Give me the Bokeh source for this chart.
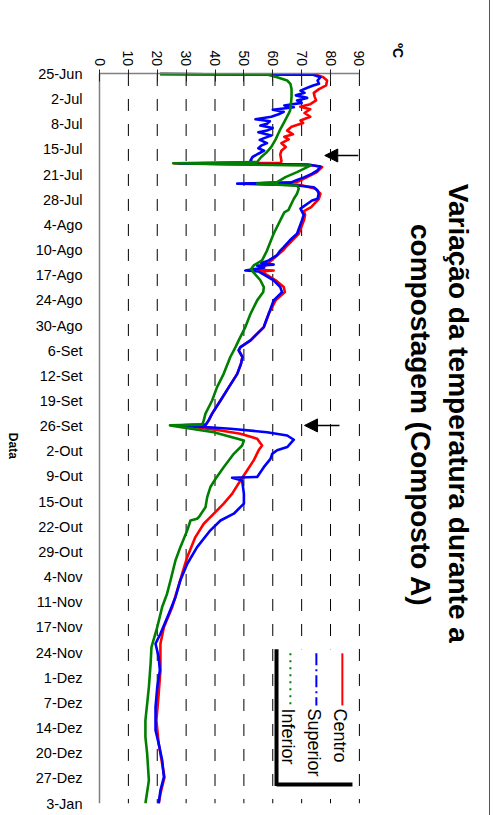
import math
from bokeh.plotting import figure
from bokeh.layouts import row
from bokeh.models import Range1d, FixedTicker, Label, Arrow, NormalHead
from bokeh.core.properties import value
from bokeh.embed import file_html
from bokeh.resources import INLINE

# ---------------- data ----------------
date_labels = ["25-Jun", "2-Jul", "8-Jul", "15-Jul", "21-Jul", "28-Jul", "4-Ago",
               "10-Ago", "17-Ago", "24-Ago", "30-Ago", "6-Set", "12-Set", "19-Set",
               "26-Set", "2-Out", "9-Out", "15-Out", "22-Out", "29-Out", "4-Nov",
               "11-Nov", "17-Nov", "24-Nov", "1-Dez", "7-Dez", "14-Dez", "20-Dez",
               "27-Dez", "3-Jan"]
temp_ticks = [0, 10, 20, 30, 40, 50, 60, 70, 80, 90]

# (position along the date category axis, temperature ºC)
centro = [
    (0, 21), (0.03, 75), (0.13, 77.5), (0.26, 78.8), (0.45, 78.5), (0.6, 76), (0.75, 74.2),
    (0.9, 74.5), (1.05, 75), (1.2, 73), (1.3, 69.5), (1.4, 73), (1.55, 71), (1.7, 73),
    (1.85, 69.6), (1.95, 70.5), (2.1, 66.5), (2.25, 65), (2.4, 67), (2.5, 64), (2.6, 65.5),
    (2.75, 63), (2.9, 64.5), (3.05, 63), (3.2, 62.6), (3.45, 63), (3.53, 62.8), (3.56, 26),
    (3.62, 73), (3.7, 77.1), (3.9, 75.3), (4.1, 71.9), (4.3, 68.4), (4.36, 50), (4.42, 70),
    (4.56, 74.8), (4.76, 76.5), (4.96, 76), (5.29, 73.3), (5.45, 70.8), (5.6, 71.2),
    (5.82, 70.8), (6.35, 69), (6.88, 64.5), (7.02, 63.5), (7.41, 59.5), (7.61, 57.5),
    (7.78, 55), (7.81, 60.3), (7.85, 56), (8.2, 61), (8.47, 63.8), (8.67, 64.2), (9.0, 61),
    (9.53, 58.6), (10.06, 56.9), (10.59, 52.3), (10.86, 48.8), (10.99, 48.2), (11.25, 49.5),
    (11.52, 49), (11.92, 47.7), (12.45, 44.8), (12.98, 41.9), (13.5, 39), (13.77, 37.8),
    (13.94, 36.8), (13.97, 28.6), (14.17, 41.9), (14.3, 48.8), (14.5, 54.6), (14.77, 56.3),
    (14.96, 55.1), (15.36, 53.4), (15.76, 51.1), (16.16, 48.8), (16.69, 45.9), (17.08, 43),
    (17.48, 39.6), (17.88, 36.1), (18.41, 33.2), (19.2, 30.4), (19.87, 28.6), (20.53, 26.9),
    (21.19, 25.2), (21.99, 22.3), (22.65, 21.1), (23.71, 21.1), (24.63, 20.5), (25.7, 19.7),
    (26.62, 20.5), (27.42, 21.7), (27.95, 22.5), (28.61, 21.1), (29.0, 20.5),
]
superior = [
    (0, 21), (0.03, 74), (0.13, 76.5), (0.26, 75.5), (0.39, 76), (0.46, 74), (0.55, 72),
    (0.66, 69.6), (0.75, 71), (0.85, 68), (0.95, 71.9), (1.05, 68.4), (1.15, 70), (1.25, 64),
    (1.32, 67.3), (1.42, 60), (1.5, 63.8), (1.6, 62), (1.7, 59.5), (1.8, 54), (1.88, 59),
    (1.98, 58), (2.05, 55.7), (2.15, 60), (2.25, 58), (2.32, 55), (2.45, 59.5), (2.55, 57),
    (2.62, 55.5), (2.75, 58), (2.85, 56), (2.95, 55), (3.05, 57), (3.17, 55), (3.3, 53),
    (3.44, 52.3), (3.52, 53), (3.56, 27.5), (3.6, 72), (3.68, 76.5), (3.83, 75.5),
    (3.97, 73.5), (4.1, 71), (4.23, 68), (4.33, 66), (4.36, 47.7), (4.4, 66), (4.5, 74.2),
    (4.63, 75.5), (4.76, 75.9), (4.96, 75.5), (5.03, 73.6), (5.35, 69.6), (5.6, 70.7),
    (5.82, 70.1), (6.35, 68.4), (6.6, 66), (6.88, 63.8), (7.02, 62.6), (7.2, 61.5),
    (7.41, 58.6), (7.52, 56), (7.58, 60.3), (7.62, 54.6), (7.7, 57), (7.81, 50.5),
    (7.85, 55), (7.95, 56.5), (8.2, 60.3), (8.47, 62.6), (8.67, 63.2), (9.0, 60.3),
    (9.53, 58.6), (10.06, 56.9), (10.59, 52.3), (10.86, 48.8), (10.99, 48.2), (11.25, 49.5),
    (11.52, 49), (11.92, 47.7), (12.45, 44.8), (12.98, 41.9), (13.5, 39), (13.77, 37.8),
    (13.94, 36.8), (13.97, 28), (14.1, 45.3), (14.24, 58), (14.37, 65), (14.54, 67.3),
    (14.83, 65), (14.96, 61.5), (15.1, 59.8), (15.3, 59.2), (15.63, 56.9), (16.02, 54.6),
    (16.05, 45.9), (16.16, 49.4), (16.69, 50), (17.08, 50), (17.48, 46.5), (17.75, 41.9),
    (18.14, 38.4), (18.81, 33.8), (19.47, 30.4), (20.13, 28), (20.8, 26.3), (21.46, 24),
    (22.25, 21.1), (22.65, 19.4), (23.18, 20.5), (23.71, 20.9), (24.37, 20), (25.17, 19.4),
    (26.09, 19.4), (26.62, 20.5), (27.28, 21.7), (27.95, 22.3), (28.48, 21.1), (29.0, 20.5),
]
inferior = [
    (0, 21), (0.02, 58), (0.13, 61.5), (0.26, 65), (0.39, 66.1), (0.6, 66.5), (0.9, 66.5),
    (1.2, 66.3), (1.45, 66), (1.6, 65.4), (1.9, 64), (2.2, 62.6), (2.6, 61), (2.9, 59.5),
    (3.1, 58), (3.3, 56), (3.5, 54.6), (3.55, 25.5), (3.64, 73), (3.9, 68.4), (4.1, 64.4),
    (4.3, 61.5), (4.36, 54.6), (4.44, 68.5), (4.56, 69), (4.76, 68.4), (4.96, 67.3),
    (5.29, 65.9), (5.4, 65.5), (5.5, 64), (5.82, 62.6), (6.35, 60.3), (7.02, 58),
    (7.41, 56.3), (7.61, 53.4), (7.75, 52.5), (7.81, 52.9), (7.9, 53.4), (8.2, 55.7),
    (8.47, 56.9), (8.67, 56.7), (9.0, 54.6), (9.53, 52.3), (10.06, 50.5), (10.59, 48.2),
    (10.86, 47.1), (11.25, 45.3), (11.92, 43), (12.45, 40.7), (12.98, 39), (13.5, 36.7),
    (13.77, 36.1), (13.94, 35.6), (13.97, 24.4), (14.24, 39.6), (14.57, 50), (14.77, 49.4),
    (15.1, 46.5), (15.63, 43), (16.09, 40.2), (16.42, 38.4), (16.82, 37.3), (17.22, 36.7),
    (17.6, 34.5), (17.68, 33.8), (17.75, 31.5), (18.14, 30.4), (18.81, 28), (19.34, 26.3),
    (20.13, 24.6), (20.66, 23.4), (21.19, 21.7), (21.99, 20), (22.78, 18), (23.44, 17.7),
    (24.37, 17.1), (25.7, 15.9), (26.36, 15.9), (27.02, 16.5), (28.08, 17.1), (29.0, 15.9),
]
series_names = ["Centro", "Superior", "Inferior"]
series_colors = ["#FF0000", "#0000FF", "#008000"]

FONT = "Liberation Sans"
N = len(date_labels) - 1

# ---------------- narrow strip holding the rotated axis title "Data" ----------------
pd_ = figure(width=21, height=815, x_range=Range1d(0, 21), y_range=Range1d(815, 0),
             toolbar_location=None, output_backend="svg", min_border=0,
             x_axis_location=None, y_axis_location=None)
pd_.outline_line_color = None
pd_.background_fill_color = "white"
pd_.border_fill_color = "white"
pd_.xgrid.visible = False
pd_.ygrid.visible = False
pd_.text(x=[12], y=[433], text=["Data"], angle=-math.pi / 2,
         text_align="center", text_baseline="middle", text_font=value(FONT),
         text_font_size="12px", text_font_style="bold", text_color="black")

# ---------------- main figure ----------------
p = figure(width=469, height=815,
           x_range=Range1d(-2.771, 135.4), y_range=Range1d(N, -1.331),
           x_axis_location="above", toolbar_location=None, output_backend="svg",
           min_border_left=70, min_border_right=0, min_border_top=40, min_border_bottom=12)
p.outline_line_color = None
p.background_fill_color = "white"
p.border_fill_color = "white"
p.styles = {"border-right": "1px solid #555555"}

xa = p.xaxis[0]
xa.ticker = FixedTicker(ticks=temp_ticks)
xa.fixed_location = 0
xa.bounds = (temp_ticks[0], temp_ticks[-1])
xa.major_label_orientation = -math.pi / 2
xa.major_label_text_font = FONT
xa.major_label_text_font_size = "14px"
xa.major_label_text_color = "black"
xa.major_label_standoff = 4
xa.major_tick_in = 8
xa.major_tick_out = 4
xa.major_tick_line_color = "#222222"
xa.minor_tick_line_color = None
xa.axis_line_color = "#808080"
xa.axis_line_width = 1.5

ya = p.yaxis[0]
ya.ticker = FixedTicker(ticks=list(range(len(date_labels))))
ya.major_label_overrides = {i: lab for i, lab in enumerate(date_labels)}
ya.major_label_text_font = FONT
ya.major_label_text_font_size = "14.5px"
ya.major_label_text_color = "black"
ya.major_label_standoff = 3
ya.major_tick_line_color = None
ya.minor_tick_line_color = None
ya.axis_line_color = None

p.xgrid.visible = False
p.ygrid.visible = False
# date axis rule at 0 ºC
p.segment(x0=[temp_ticks[0]], y0=[0], x1=[temp_ticks[0]], y1=[N],
          line_color="#808080", line_width=1.5)
# dashed vertical grid lines
g = temp_ticks[1:]
p.segment(x0=g, y0=[0] * len(g), x1=g, y1=[N] * len(g),
          line_color="black", line_width=1, line_dash="12 13")

for data, col in zip([centro, superior, inferior], series_colors):
    p.line([d[1] for d in data], [d[0] for d in data], line_color=col,
           line_width=2.6, line_join="round")

# ---------------- legend (drawn rotated) ----------------
p.quad(left=[61.3], right=[87.6], top=[22.87], bottom=[28.24],
       fill_color="white", line_color=None)
p.line([61.3, 61.3], [22.87, 28.3], line_color="black", line_width=4)
p.line([61.3, 87.6], [28.24, 28.24], line_color="black", line_width=4)
leg_x = [84.1, 75.1, 66.1]
leg_dash = ["solid", "12 4 2 4", "2 5"]
for lx, col, dash in zip(leg_x, series_colors, leg_dash):
    p.line([lx, lx], [23.03, 25.1], line_color=col, line_width=2, line_dash=dash)
p.text(x=[x - 0.8 for x in leg_x], y=[25.22] * 3, text=series_names,
       angle=-math.pi / 2, text_align="left", text_baseline="middle",
       text_font=value(FONT), text_font_size="18px", text_color="black")

# ---------------- arrows ----------------
for xs, xe, yy in [(89.6, 78.0, 3.24), (83.1, 71.0, 13.97)]:
    p.add_layout(Arrow(end=NormalHead(size=13, fill_color="black", line_color="black"),
                       x_start=xs, y_start=yy, x_end=xe, y_end=yy,
                       line_color="black", line_width=1.5))

# ---------------- title / unit ----------------
def lab(x, y, text, size):
    p.add_layout(Label(x=x, y=y, text=text, angle=-math.pi / 2,
                       text_align="center", text_baseline="middle",
                       text_font=FONT, text_font_size=size,
                       text_font_style="bold", text_color="black"))

lab(124.2, 13.49, "Variação da temperatura durante a", "28px")
lab(111.2, 13.57, "compostagem (Composto A)", "28px")
lab(103.2, -0.93, "ºC", "14px")

layout = row(pd_, p)
open("out.html", "w").write(file_html(layout, INLINE))
